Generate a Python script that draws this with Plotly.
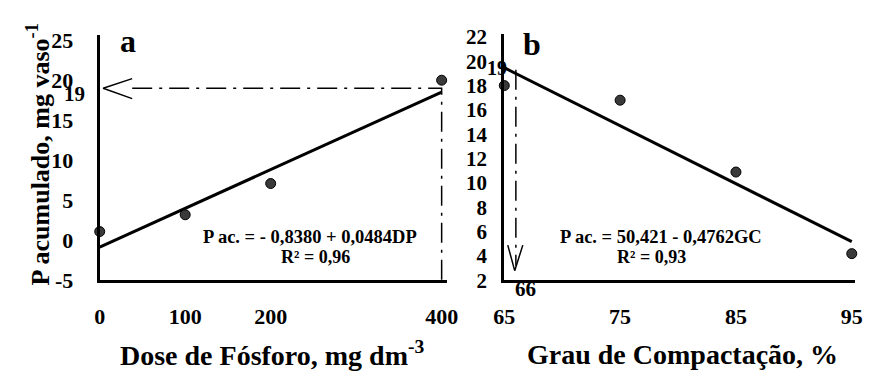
import plotly.graph_objects as go

# ---- data ----
dose = [0, 100, 200, 400]
p_dose = [1.1, 3.2, 7.1, 20.0]
gc = [65, 75, 85, 95]
p_gc = [18.0, 16.8, 10.9, 4.2]
a_int, a_slope = -0.8380, 0.0484
b_int, b_slope = 50.421, -0.4762
a_yticks = [-5, 0, 5, 10, 15, 20, 25]
b_yticks = [2, 4, 6, 8, 10, 12, 14, 16, 18, 20, 22]
a_xticks = [0, 100, 200, 400]
b_xticks = [65, 75, 85, 95]
guide_a_y = 19      # reading on panel a
guide_b_x = 66      # reading on panel b

FONT = "Liberation Serif"
W, H = 876, 382

def xd(p0, p1):
    return [p0 / W, p1 / W]

def yd(top, bottom):
    return [1 - bottom / H, 1 - top / H]

fig = go.Figure()

# --- panel a ---
fa = [a_int + a_slope * x for x in (dose[0], dose[-1])]
fig.add_trace(go.Scatter(x=[dose[0], dose[-1]], y=fa, mode="lines",
                         line=dict(color="black", width=3), xaxis="x", yaxis="y",
                         showlegend=False))
dd = "20px,7px,3px,7px"
fig.add_trace(go.Scatter(x=[38, dose[-1], dose[-1]], y=[guide_a_y, guide_a_y, -5],
                         mode="lines", line=dict(color="black", width=1.5, dash=dd),
                         xaxis="x", yaxis="y", showlegend=False))
fig.add_trace(go.Scatter(x=[38, 4, 38], y=[guide_a_y + 1.2, guide_a_y, guide_a_y - 1.3],
                         mode="lines", line=dict(color="black", width=1.5),
                         xaxis="x", yaxis="y", showlegend=False))
fig.add_trace(go.Scatter(x=dose, y=p_dose, mode="markers", cliponaxis=False,
                         marker=dict(size=10, color="#3a3a3a", line=dict(color="black", width=1)),
                         xaxis="x", yaxis="y", showlegend=False))

# --- panel b ---
fb = [b_int + b_slope * x for x in (gc[0], gc[-1])]
fig.add_trace(go.Scatter(x=[gc[0], gc[-1]], y=fb, mode="lines",
                         line=dict(color="black", width=3), xaxis="x2", yaxis="y2",
                         showlegend=False))
fig.add_trace(go.Scatter(x=[guide_b_x, guide_b_x], y=[19.3, 3.2],
                         mode="lines", line=dict(color="black", width=1.5, dash=dd),
                         xaxis="x2", yaxis="y2", showlegend=False))
fig.add_trace(go.Scatter(x=[guide_b_x - 0.7, guide_b_x - 0.1, guide_b_x + 0.6],
                         y=[4.9, 2.8, 4.9],
                         mode="lines", line=dict(color="black", width=1.5),
                         xaxis="x2", yaxis="y2", showlegend=False))
fig.add_trace(go.Scatter(x=gc, y=p_gc, mode="markers", cliponaxis=False,
                         marker=dict(size=10, color="#3a3a3a", line=dict(color="black", width=1)),
                         xaxis="x2", yaxis="y2", showlegend=False))

def bold(size):
    return dict(family=FONT, size=size, color="black", weight="bold")

axis_common = dict(showgrid=False, zeroline=False, showline=True, linecolor="black",
                   linewidth=3, ticks="")

def labels(vals):
    return [str(v) for v in vals]

fig.update_layout(
    width=W, height=H,
    margin=dict(l=0, r=0, t=0, b=0),
    paper_bgcolor="white", plot_bgcolor="white",
    xaxis=dict(domain=xd(91, 447), range=[0, 406], tickvals=a_xticks,
               ticktext=labels(a_xticks), tickfont=bold(22), ticklabelstandoff=14,
               anchor="y", **axis_common),
    yaxis=dict(domain=yd(28, 288), range=[-5, 25.6], tickvals=a_yticks,
               ticktext=labels(a_yticks), tickfont=bold(22), ticklabelstandoff=19,
               anchor="x", **axis_common),
    xaxis2=dict(domain=xd(506, 866), range=[65, 95.3], tickvals=b_xticks,
                ticktext=labels(b_xticks), tickfont=bold(22), ticklabelstandoff=14,
                anchor="y2", **axis_common),
    yaxis2=dict(domain=yd(27, 288), range=[2, 22.2], tickvals=b_yticks,
                ticktext=labels(b_yticks), tickfont=bold(21), ticklabelstandoff=10,
                anchor="x2", **axis_common),
)

ann = [
    dict(text="a", x=120, y=34, font=bold(32)),
    dict(text="b", x=534, y=37, font=bold(32)),
    dict(text="P ac. = - 0,8380 + 0,0484DP", x=307, y=242, font=bold(18.5)),
    dict(text="R² = 0,96", x=312, y=263, font=bold(18)),
    dict(text="P ac. = 50,421 - 0,4762GC", x=667, y=242, font=bold(18.5)),
    dict(text="R² = 0,93", x=657, y=263, font=bold(18)),
    dict(text="Dose de Fósforo, mg dm<sup>-3</sup>", x=268, y=366, font=bold(28)),
    dict(text="Grau de Compactação, %", x=689, y=367, font=bold(28)),
    dict(text="P acumulado, mg vaso<sup>-1</sup>", x=28, y=154, font=bold(26), textangle=-90),
    dict(text=str(guide_a_y), x=65, y=90, font=bold(21)),
    dict(text=str(guide_a_y), x=499, y=63, font=bold(20)),
    dict(text=str(guide_b_x), x=528, y=297, font=bold(21)),
]
for a in ann:
    a.update(xref="paper", yref="paper", showarrow=False,
             xanchor="center", yanchor="middle")
    a["x"] = a["x"] / W
    a["y"] = 1 - a["y"] / H
fig.update_layout(annotations=ann)

fig.write_html("out.html")
